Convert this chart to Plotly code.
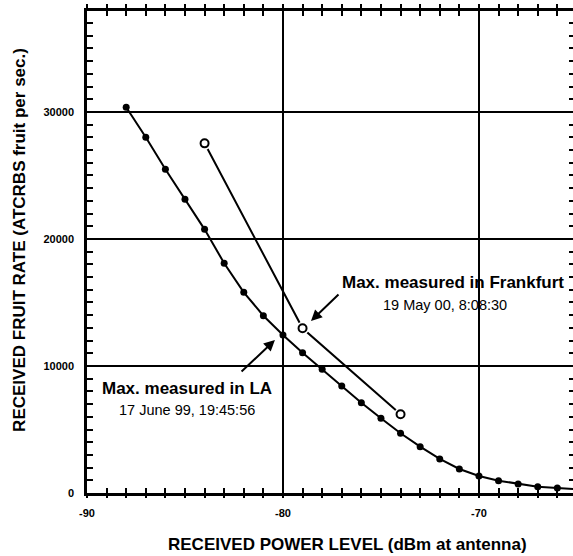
import plotly.graph_objects as go

# ---- data ----
la_power = [-88, -87, -86, -85, -84, -83, -82, -81, -80, -79, -78, -77, -76,
            -75, -74, -73, -72, -71, -70, -69, -68, -67, -66, -65]
la_rate = [30370, 28010, 25490, 23130, 20760, 18090, 15800, 13960, 12440, 11050,
           9740, 8430, 7110, 5880, 4700, 3650, 2680, 1890, 1340, 970, 710, 500, 390, 300]

fra_power = [-84, -79, -74]
fra_rate = [27530, 12970, 6200]

x_tickvals = [-90, -80, -70]
x_ticktext = ["-90", "-80", "-70"]
y_tickvals = [0, 10000, 20000, 30000]
y_ticktext = ["0", "10000", "20000", "30000"]

x_range = [-90, -65.2]
y_range = [0, 37950]

FONT = "Liberation Sans, Arial, Helvetica, sans-serif"
BLK = "black"

fig = go.Figure()

# LA measured curve (filled markers)
fig.add_trace(go.Scatter(x=la_power, y=la_rate, mode="lines+markers",
                         line=dict(color=BLK, width=2),
                         marker=dict(symbol="circle", size=7, color=BLK),
                         hoverinfo="skip"))

# Frankfurt curve (open markers with gap)
fig.add_trace(go.Scatter(x=fra_power, y=fra_rate, mode="lines",
                         line=dict(color=BLK, width=2), hoverinfo="skip"))
fig.add_trace(go.Scatter(x=fra_power, y=fra_rate, mode="markers",
                         marker=dict(symbol="circle", size=13, color="white"),
                         hoverinfo="skip"))
fig.add_trace(go.Scatter(x=fra_power, y=fra_rate, mode="markers",
                         marker=dict(symbol="circle", size=8, color="white",
                                     line=dict(color=BLK, width=2)),
                         hoverinfo="skip"))

# invisible traces so the extra tick axes are drawn
fig.add_trace(go.Scatter(x=[-80], y=[10000], xaxis="x2", yaxis="y", mode="markers",
                         marker=dict(opacity=0), showlegend=False, hoverinfo="skip"))
fig.add_trace(go.Scatter(x=[-80], y=[10000], xaxis="x3", yaxis="y", mode="markers",
                         marker=dict(opacity=0), showlegend=False, hoverinfo="skip"))
fig.add_trace(go.Scatter(x=[-80], y=[10000], xaxis="x", yaxis="y2", mode="markers",
                         marker=dict(opacity=0), showlegend=False, hoverinfo="skip"))

tickfont = dict(family=FONT, size=11, color=BLK, weight="bold")

fig.update_layout(
    width=573, height=556,
    margin=dict(l=87, r=0, t=11, b=63),
    paper_bgcolor="white", plot_bgcolor="white",
    showlegend=False,
    xaxis=dict(range=x_range, tickmode="array", tickvals=x_tickvals, ticktext=x_ticktext,
               ticks="inside", ticklen=5, tickwidth=2, tickcolor=BLK,
               minor=dict(tickmode="linear", tick0=-90, dtick=1, ticks="inside", ticklen=5,
                          tickwidth=2, tickcolor=BLK, showgrid=False),
               showline=True, linewidth=2.5, linecolor=BLK, mirror="ticks",
               showgrid=True, gridcolor=BLK, gridwidth=2, zeroline=False,
               tickfont=tickfont, ticklabelstandoff=8),
    xaxis2=dict(range=x_range, overlaying="x", side="bottom", anchor="y",
                tickmode="linear", tick0=-90, dtick=1, ticks="outside", ticklen=4, tickwidth=2,
                tickcolor=BLK, showticklabels=False, showgrid=False,
                showline=False, zeroline=False),
    xaxis3=dict(range=x_range, overlaying="x", side="top", anchor="y",
                tickmode="linear", tick0=-90, dtick=1, ticks="outside", ticklen=6, tickwidth=2,
                tickcolor=BLK, showticklabels=False, showgrid=False,
                showline=False, zeroline=False),
    yaxis=dict(range=y_range, tickmode="array", tickvals=y_tickvals, ticktext=y_ticktext,
               ticks="inside", ticklen=6, tickwidth=2, tickcolor=BLK,
               minor=dict(tickmode="linear", tick0=0, dtick=1000, ticks="inside", ticklen=6,
                          tickwidth=2, tickcolor=BLK, showgrid=False),
               showline=True, linewidth=2.5, linecolor=BLK, mirror=False,
               showgrid=True, gridcolor=BLK, gridwidth=2, zeroline=False,
               tickfont=tickfont, ticklabelstandoff=8),
    yaxis2=dict(range=y_range, overlaying="y", side="right", anchor="x",
                tickmode="linear", tick0=0, dtick=1000, ticks="inside", ticklen=4, tickwidth=2,
                tickcolor=BLK, showticklabels=False, showgrid=False,
                showline=False, zeroline=False),
)

bold_title = dict(family=FONT, size=17, color=BLK, weight="bold")
reg = dict(family=FONT, size=14.5, color=BLK)

annotations = [
    # axis titles
    dict(text="RECEIVED POWER LEVEL (dBm at antenna)", xref="paper", yref="paper",
         x=0.535, y=-0.106, showarrow=False, font=bold_title, xanchor="center", yanchor="middle"),
    dict(text="RECEIVED FRUIT RATE (ATCRBS fruit per sec.)", xref="paper", yref="paper",
         x=-0.138, y=0.525, showarrow=False, font=bold_title, textangle=-90,
         xanchor="center", yanchor="middle"),
    # Frankfurt label
    dict(text="Max. measured in Frankfurt", x=-71.3, y=16610, showarrow=False, font=bold_title),
    dict(text="19 May 00, 8:08:30", x=-71.71, y=14800, showarrow=False, font=reg),
    dict(text="", x=-78.57, y=13540, ax=-77.09, ay=15750, axref="x", ayref="y",
         showarrow=True, arrowhead=2, arrowsize=1.1, arrowwidth=2, arrowcolor=BLK, standoff=0),
    # LA label
    dict(text="Max. measured in LA", x=-84.9, y=8190, showarrow=False, font=bold_title),
    dict(text="17 June 99, 19:45:56", x=-84.92, y=6540, showarrow=False, font=reg),
    dict(text="", x=-80.41, y=12050, ax=-82.19, ay=9450, axref="x", ayref="y",
         showarrow=True, arrowhead=2, arrowsize=1.1, arrowwidth=2, arrowcolor=BLK, standoff=0),
]
fig.update_layout(annotations=annotations)

fig.write_html("out.html")
